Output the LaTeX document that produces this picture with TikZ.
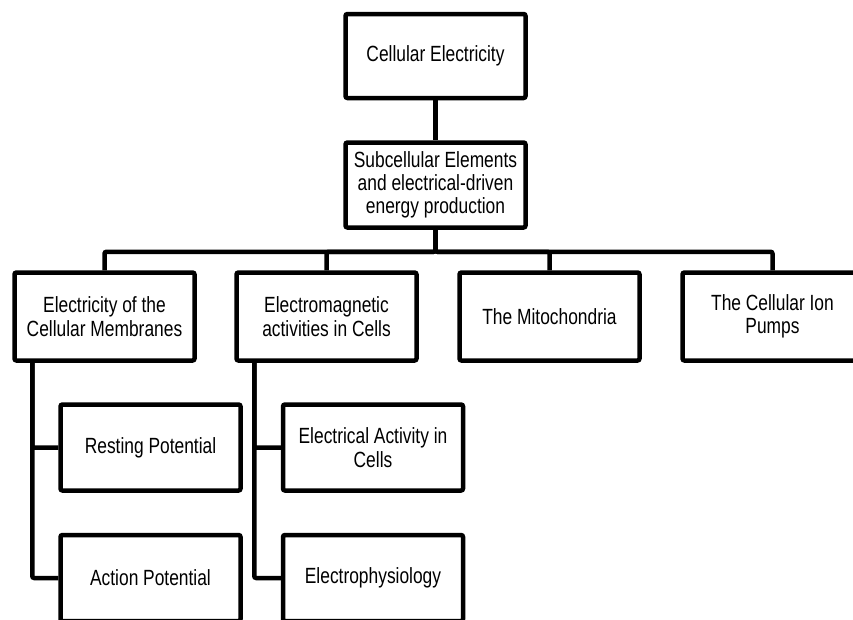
\documentclass[tikz,border=0pt]{standalone}
\usepackage{fontspec}
\setmainfont{Liberation Sans}[FakeStretch=0.79]

\begin{document}
\begin{tikzpicture}[x=1pt,y=-1pt,
	box/.style={draw,line width=4.5pt,rounded corners=2pt,minimum width=180pt,align=center,inner sep=2pt,font=\fontsize{22}{23.3}\selectfont},
	link/.style={line width=4.5pt,rounded corners=2pt}]
	\useasboundingbox (0,0) rectangle (853,619);
	% root and second level
		\node[box,minimum height=84pt] (cell) at (435.5,56) {Cellular Electricity};
		\node[box,minimum height=85pt] (sub) at (435.5,185) {Subcellular Elements\\and electrical-driven\\energy production};
		\draw[link] (cell) -- (sub);
	% topics
		\node[box,minimum height=88pt] (memb) at (104.5,316.5) {Electricity of the\\Cellular Membranes};
		\node[box,minimum height=88pt] (emag) at (326.5,316.5) {Electromagnetic\\activities in Cells};
		\node[box,minimum height=88pt] (mito) at (549.5,316.5) {The Mitochondria};
		\node[box,minimum height=88pt] (pump) at (772.5,316.5) {The Cellular Ion\\Pumps};
	% bus from subcellular box
		\coordinate (bus) at ([yshift=-22pt]sub.south);
		\draw[link] (sub.south) -- (bus) -| (memb.north);
		\draw[link] (sub.south) -- (bus) -| (emag.north);
		\draw[link] (sub.south) -- (bus) -| (mito.north);
		\draw[link] (sub.south) -- (bus) -| (pump.north);
	% membrane branch
		\node[box,minimum height=86pt] (rest) at (150.5,447.5) {Resting Potential};
		\node[box,minimum height=86pt] (action) at (150.5,578) {Action Potential};
		\coordinate (membtrunk) at ([xshift=20pt]memb.south west);
		\draw[link] (membtrunk) |- (rest.west);
		\draw[link] (membtrunk) |- (action.west);
	% electromagnetic branch
		\node[box,minimum height=86pt] (elact) at (373,447.5) {Electrical Activity in\\Cells};
		\node[box,minimum height=86pt] (ephys) at (373,578) {Electrophysiology};
		\coordinate (emagtrunk) at ([xshift=20pt]emag.south west);
		\draw[link] (emagtrunk) |- (elact.west);
		\draw[link] (emagtrunk) |- (ephys.west);
\end{tikzpicture}
\end{document}
